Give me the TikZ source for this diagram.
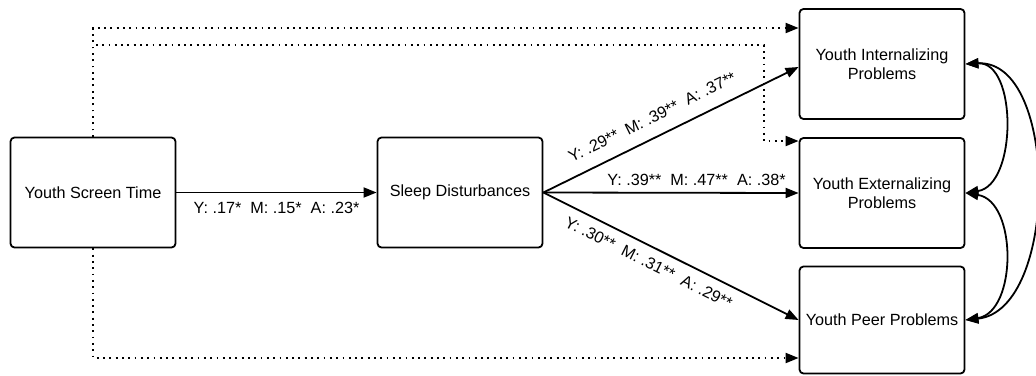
\documentclass[tikz,border=0pt]{standalone}
\usepackage{fontspec}
\setmainfont{Liberation Sans}
\usetikzlibrary{arrows.meta,calc}
\begin{document}
\begin{tikzpicture}[x=1pt,y=-1pt,
  box/.style={draw, line width=1.8pt, rounded corners=4pt, minimum width=165pt, minimum height=110pt, inner sep=2pt, align=center, font=\fontsize{16.2}{19}\selectfont},
  lbl/.style={font=\fontsize{16.2}{19}\selectfont, inner sep=3pt},
  arr/.style={line width=1.8pt, -{Triangle[length=13pt,width=10pt]}},
  dotarr/.style={line width=2pt, dash pattern=on 1.8pt off 4.5pt, -{Triangle[length=13pt,width=10pt]}},
  biarr/.style={line width=1.8pt, {Triangle[length=13pt,width=10pt]}-{Triangle[length=13pt,width=10pt]}}
]
\useasboundingbox (0,0) rectangle (1036,375);
\node[box] (b1) at (93,192.5) {Youth Screen Time};
\node[box] (b2) at (460,192.5) {Sleep Disturbances};
\node[box] (b3) at (882,64) {Youth Internalizing\\Problems};
\node[box] (b4) at (882,193) {Youth Externalizing\\Problems};
\node[box, minimum height=107pt] (b5) at (882,320) {Youth Peer Problems};

% dotted direct paths
\coordinate (d1) at (0,28);
\draw[dotarr] (b1.north) |- (b3.west |- d1);
\coordinate (d2) at (764,45);
\coordinate (d3) at (764,141);
\draw[dotarr] (b1.north) |- (d2) -- (d3) -- (b4.west |- d3);
\coordinate (d4) at (0,358);
\draw[dotarr] (b1.south) |- (b5.west |- d4);

% solid paths
\draw[arr] (b1.east) -- node[lbl, below=6pt]{Y: .17*~~M: .15*~~A: .23*} (b2.west);
\draw[arr] (b2.east) -- node[lbl, sloped, above=10pt, pos=0.46]{Y: .29**~~M: .39**~~A: .37**} ($(b3.west)+(0,3)$);
\draw[arr] (b2.east) -- node[lbl, above=3pt, pos=0.6]{Y: .39**~~M: .47**~~A: .38*} (b4.west);
\draw[arr] (b2.east) -- node[lbl, sloped, below=6pt, pos=0.44]{Y: .30**~~M: .31**~~A: .29**} (b5.west);

% correlations
\draw[biarr] (b3.east) .. controls +(52,-3) and +(52,-8) .. (b4.east);
\draw[biarr] (b4.east) .. controls +(52,8) and +(52,-8) .. (b5.east);
\draw[biarr] (b3.east) .. controls +(94,-5) and +(94,-10) .. (b5.east);
\end{tikzpicture}
\end{document}
